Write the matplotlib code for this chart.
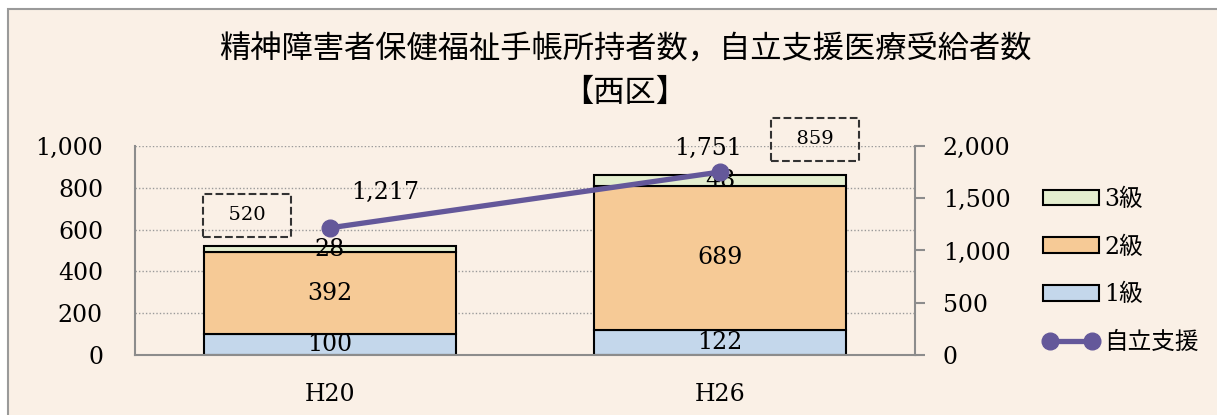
import matplotlib
matplotlib.use('Agg')
import matplotlib.pyplot as plt
from matplotlib.patches import Rectangle
from matplotlib.lines import Line2D
from matplotlib import rcParams
rcParams['font.family'] = ['DejaVu Serif', 'Noto Sans CJK JP']

# データ
years = ['H20', 'H26']
kyu1 = [100, 122]
kyu2 = [392, 689]
kyu3 = [28, 48]
totals = [520, 859]
jiritsu = [1217, 1751]

bg = '#FAF0E6'
col1 = '#C4D7EB'
col2 = '#F6CA96'
col3 = '#E4EECF'
line_col = '#64589A'
spine_col = '#8C8C8C'

fig = plt.figure(figsize=(12.17, 4.15), dpi=100)
fig.patch.set_facecolor('white')
# 外枠
fig.patches.append(Rectangle((8 / 1217, -0.1), 1.2, 1 - 9 / 415 + 0.1, transform=fig.transFigure,
                             facecolor=bg, edgecolor='#9A9A9A', linewidth=1.5, zorder=-5))

ax = fig.add_axes([135 / 1217, 1 - 355 / 415, 780 / 1217, 209 / 415])
ax.set_facecolor('none')
x = list(range(len(years)))
w = 0.644

b1 = ax.bar(x, kyu1, w, color=col1, edgecolor='black', linewidth=1.5, label='1級')
b2 = ax.bar(x, kyu2, w, bottom=kyu1, color=col2, edgecolor='black', linewidth=1.5, label='2級')
bot3 = [a + b for a, b in zip(kyu1, kyu2)]
b3 = ax.bar(x, kyu3, w, bottom=bot3, color=col3, edgecolor='black', linewidth=1.5, label='3級')

ax.set_xlim(-0.5, 1.5)
ax.set_ylim(0, 1000)
ax.set_yticks(range(0, 1001, 200))
ax.set_yticklabels(['{:,}'.format(v) for v in range(0, 1001, 200)], fontsize=17)
ax.set_xticks(x)
ax.set_xticklabels(years, fontsize=17)
ax.tick_params(axis='y', length=0, pad=23)
ax.tick_params(axis='x', length=0, pad=20)
ax.yaxis.grid(True, linestyle=(0, (1, 1.5)), color='#9A9A9A', linewidth=1)
ax.set_axisbelow(True)
for s in ['top', 'right']:
    ax.spines[s].set_visible(False)
for s in ['left', 'bottom']:
    ax.spines[s].set_color(spine_col)
    ax.spines[s].set_linewidth(1.5)

# 棒のラベル
for i in x:
    ax.text(i, kyu1[i] / 2, str(kyu1[i]), ha='center', va='center', fontsize=17)
    ax.text(i, kyu1[i] + kyu2[i] / 2, str(kyu2[i]), ha='center', va='center', fontsize=17)
    ax.text(i, bot3[i] + kyu3[i] / 2, str(kyu3[i]), ha='center', va='center', fontsize=17)

# 合計（点線枠）
tot_off = [(-83, 31), (95, 36)]
for i in x:
    ax.annotate('  ' + str(totals[i]) + '  ', (i, totals[i]), xytext=tot_off[i], textcoords='offset pixels',
                ha='center', va='center', fontsize=14, annotation_clip=False,
                bbox=dict(boxstyle='square,pad=0.65', facecolor='none', edgecolor='#333333',
                          linestyle='--', linewidth=1.5))

ax2 = ax.twinx()
ax2.plot(x, jiritsu, color=line_col, linewidth=3.8, marker='o', markersize=12, label='自立支援')
ax2.set_ylim(0, 2000)
ax2.set_yticks(range(0, 2001, 500))
ax2.set_yticklabels(['{:,}'.format(v) for v in range(0, 2001, 500)], fontsize=17)
ax2.tick_params(axis='y', length=7, width=1.5, color=spine_col, pad=13)
for s in ['top', 'left', 'bottom']:
    ax2.spines[s].set_visible(False)
ax2.spines['right'].set_color(spine_col)
ax2.spines['right'].set_linewidth(1.5)

line_off = [(55, 35), (-12, 24)]
for i in x:
    ax2.annotate('{:,}'.format(jiritsu[i]), (i, jiritsu[i]), xytext=line_off[i], textcoords='offset pixels',
                 ha='center', va='center', fontsize=17, annotation_clip=False)

fig.text(625 / 1217, 1 - 50 / 415, '精神障害者保健福祉手帳所持者数，自立支援医療受給者数',
         ha='center', va='center', fontsize=22.5)
fig.text(625 / 1217, 1 - 93 / 415, '【西区】', ha='center', va='center', fontsize=22.5)

handles = [b3, b2, b1, Line2D([], [], color=line_col, linewidth=3.8, marker='o', markersize=12)]
labels = ['3級', '2級', '1級', '自立支援']
leg = fig.legend(handles, labels, loc='upper left', bbox_to_anchor=(1031 / 1217, 1 - 176 / 415),
                 frameon=False, fontsize=17, handlelength=2.4, handleheight=0.65, numpoints=2,
                 handletextpad=0.2, labelspacing=1.05, borderpad=0)

fig.savefig('out.png', dpi=100, facecolor=fig.get_facecolor())
